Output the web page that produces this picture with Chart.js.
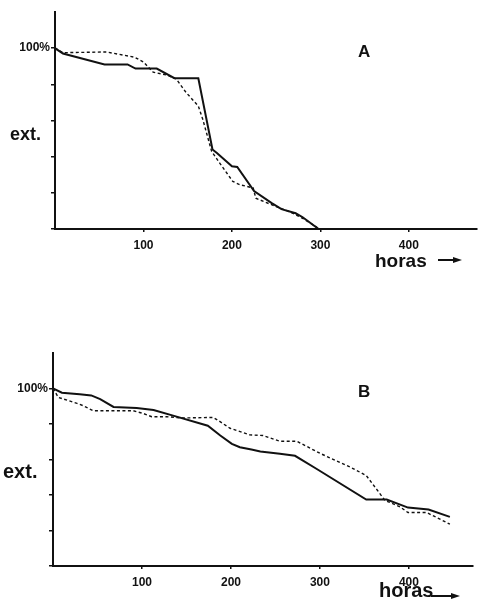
<!DOCTYPE html>
<html>
<head>
<meta charset="utf-8">
<script src="https://cdn.jsdelivr.net/npm/chart.js@4.4.0/dist/chart.umd.min.js"></script>
<style>
  html, body { margin: 0; padding: 0; background: #fff; }
  body { width: 478px; height: 604px; position: relative; overflow: hidden; }
  .wrap { position: absolute; left: 0; width: 478px; }
  .lbl { position: absolute; font-family: "Liberation Sans", Arial, sans-serif; font-weight: bold; color: #111; line-height: 1; white-space: nowrap; }
  .shaft { position: absolute; height: 2px; background: #111; }
  .head { position: absolute; width: 0; height: 0; border-top: 3px solid transparent; border-bottom: 3px solid transparent; border-left: 9px solid #111; }
</style>
</head>
<body>
<div class="wrap" style="top:0;height:300px"><canvas id="cA" width="478" height="300"></canvas></div>
<div class="wrap" style="top:300px;height:304px"><canvas id="cB" width="478" height="304"></canvas></div>

<div class="lbl" style="left:10px;top:125px;font-size:18px">ext.</div>
<div class="lbl" style="left:358px;top:43px;font-size:17px">A</div>
<div class="lbl" style="left:375px;top:251px;font-size:19px">horas</div>
<div class="shaft" style="left:438px;top:259px;width:16px"></div>
<div class="head" style="left:453px;top:257px"></div>

<div class="lbl" style="left:3px;top:461px;font-size:20px">ext.</div>
<div class="lbl" style="left:358px;top:383px;font-size:17px">B</div>
<div class="lbl" style="left:379px;top:580px;font-size:20px">horas</div>
<div class="shaft" style="left:431px;top:595px;width:21px"></div>
<div class="head" style="left:451px;top:593px"></div>

<script>
// ---- data (hours vs. extinction %) ----
const xTickValues = [100, 200, 300, 400];
const yTickValues = [0, 20, 40, 60, 80, 100];

const aSolidHours = [0, 9, 56, 82, 91, 115, 135, 162, 178, 183, 200, 206, 225, 245, 256, 272, 280, 298];
const aSolidExt   = [100, 97, 91, 91, 88.7, 88.7, 83.4, 83.4, 44, 42, 34.7, 34.3, 21, 14.3, 11, 8.7, 6.5, 0];

const aDashHours = [0, 9, 58, 90, 100, 111, 126, 137, 148, 162, 167, 177, 186, 201, 209, 224, 227, 250, 265, 280, 295, 298];
const aDashExt   = [100, 97.5, 97.9, 95, 92.3, 86.7, 85.2, 83, 75.6, 68, 60.7, 43, 36.6, 26.3, 24.5, 22.7, 17, 12.4, 9.6, 5.9, 1.3, 0];

const bSolidHours = [0, 10, 30, 43, 53, 68, 94, 113, 135, 174, 188, 201, 210, 223, 233, 255, 272, 296, 352, 375, 399, 422, 446];
const bSolidExt   = [100, 97.6, 96.7, 96.1, 94, 89.6, 89, 87.9, 84.7, 79, 73.5, 68.8, 66.9, 65.6, 64.5, 63.2, 62.1, 54.8, 37.4, 37.4, 32.9, 31.8, 27.7];

const bDashHours = [0, 6, 27, 34, 45, 90, 101, 111, 128, 146, 180, 186, 199, 221, 236, 255, 274, 300, 334, 352, 373, 390, 399, 420, 446];
const bDashExt   = [100, 95, 91.6, 90.3, 87.5, 87.5, 86, 84.1, 84.1, 83.4, 83.7, 81.9, 77.6, 73.9, 73.5, 70.3, 70.3, 63.5, 55.7, 51, 37, 33.3, 30.1, 30.1, 23.6];

const ink = '#111';

function pts(xs, ys) { return xs.map((x, i) => ({ x: x, y: ys[i] })); }

function makeChart(id, solidX, solidY, dashX, dashY, opts) {
  return new Chart(document.getElementById(id), {
    type: 'line',
    data: {
      datasets: [
        { data: pts(solidX, solidY), borderColor: ink, borderWidth: 2, pointRadius: 0, tension: 0, fill: false },
        { data: pts(dashX, dashY), borderColor: ink, borderWidth: 1.4, borderDash: [3, 2.5], pointRadius: 0, tension: 0, fill: false }
      ]
    },
    options: {
      responsive: false,
      animation: false,
      events: [],
      layout: { padding: { left: 0, right: opts.padRight, top: opts.padTop, bottom: 0 } },
      plugins: { legend: { display: false }, tooltip: { enabled: false } },
      scales: {
        x: {
          type: 'linear', min: 0, max: opts.xMax,
          afterBuildTicks: s => { s.ticks = xTickValues.map(v => ({ value: v })); },
          afterFit: s => { s.height = opts.xHeight; },
          grid: { drawOnChartArea: false, drawTicks: true, tickLength: 3, color: ink, lineWidth: 1.5 },
          border: { display: true, color: ink, width: 2 },
          ticks: { color: ink, padding: 6, maxRotation: 0, autoSkip: false,
                   font: { family: 'Liberation Sans', weight: 'bold', size: 12 } }
        },
        y: {
          type: 'linear', min: 0, max: 120,
          afterBuildTicks: s => { s.ticks = yTickValues.map(v => ({ value: v })); },
          afterFit: s => { s.width = opts.yWidth; },
          grid: { drawOnChartArea: false, drawTicks: true, tickLength: 4, color: ink, lineWidth: 1.5 },
          border: { display: true, color: ink, width: 2 },
          ticks: { color: ink, padding: 1, autoSkip: false,
                   callback: v => (v === 100 ? '100%' : ''),
                   font: { family: 'Liberation Sans', weight: 'bold', size: 12 } }
        }
      }
    }
  });
}

makeChart('cA', aSolidHours, aSolidExt, aDashHours, aDashExt,
  { xMax: 477, padRight: 1, padTop: 12, xHeight: 71, yWidth: 55 });
makeChart('cB', bSolidHours, bSolidExt, bDashHours, bDashExt,
  { xMax: 472, padRight: 5, padTop: 53, xHeight: 38, yWidth: 53 });
</script>
</body>
</html>
